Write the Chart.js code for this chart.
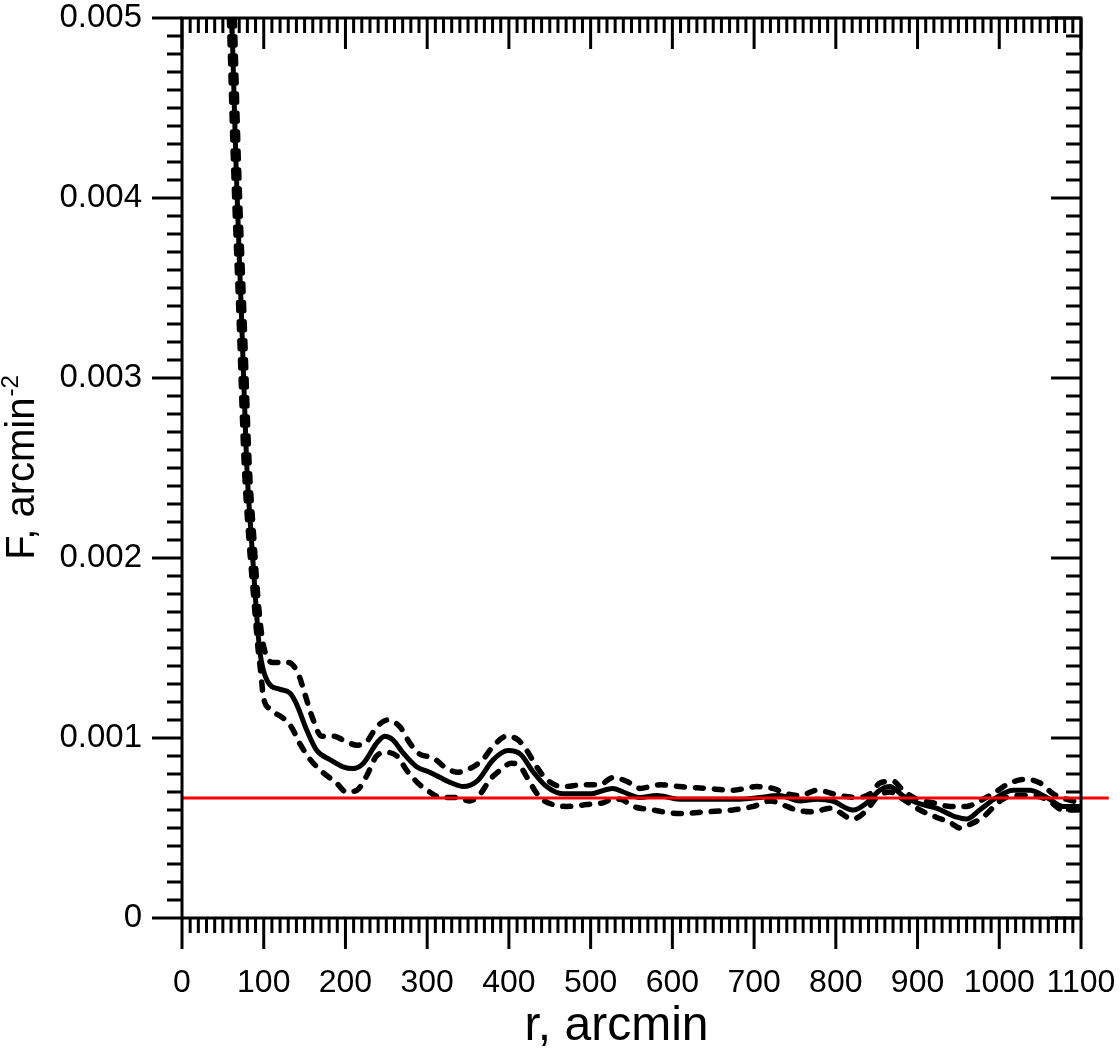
<!DOCTYPE html>
<html>
<head>
<meta charset="utf-8">
<script src="https://cdn.jsdelivr.net/npm/chart.js@4"></script>
<style>
  html, body { margin: 0; padding: 0; background: #fff; }
  #wrap { width: 1120px; height: 1049px; }
</style>
</head>
<body>
<div id="wrap"><canvas id="densityChart" width="1120" height="1049"></canvas></div>
<script>
// Radial surface density profile F(r)
// [r (arcmin), F (arcmin^-2)]
const meanProfile = [
    [61, 0.0050], [66, 0.0042], [73, 0.00332], [79, 0.00254], [85, 0.0021], [90, 0.00177],
    [95, 0.00149], [104, 0.00132], [120, 0.00127], [132, 0.00125], [140, 0.00119],
    [153, 0.00104], [165, 0.00093], [181, 0.00088], [197, 0.00084], [209, 0.00083],
    [222, 0.00086], [238, 0.00097], [248, 0.00101], [258, 0.00099], [270, 0.00092],
    [287, 0.00084], [303, 0.00081], [316, 0.00078], [330, 0.00075], [344, 0.00073],
    [361, 0.00076], [381, 0.00088], [399, 0.00093], [414, 0.00091], [430, 0.00081],
    [446, 0.00073], [466, 0.00069], [499, 0.00069], [527, 0.00072], [540, 0.0007],
    [560, 0.00067], [581, 0.00068], [609, 0.00066], [650, 0.00066], [683, 0.00066],
    [707, 0.00067], [731, 0.00068], [756, 0.00065], [777, 0.00066], [796, 0.00065],
    [821, 0.0006], [838, 0.00064], [854, 0.00071], [866, 0.00073], [882, 0.00068],
    [899, 0.00064], [923, 0.00061], [948, 0.00056], [960, 0.00055], [976, 0.0006],
    [997, 0.00067], [1017, 0.00071], [1037, 0.00071], [1058, 0.00067], [1078, 0.00062],
    [1100, 0.00062]
];

const upperBound = [
    [64, 0.0050], [69, 0.0042], [76, 0.00332], [82, 0.00254], [88, 0.0021], [93, 0.00177],
    [99, 0.00153], [111, 0.00142], [130, 0.00142], [142, 0.00136], [150, 0.00125],
    [159, 0.00112], [171, 0.00101], [185, 0.00101], [201, 0.00098], [214, 0.00096],
    [226, 0.00098], [238, 0.00106], [252, 0.0011], [267, 0.00106], [279, 0.00097],
    [291, 0.00091], [307, 0.00089], [324, 0.00083], [338, 0.00081], [352, 0.00083],
    [368, 0.00088], [380, 0.00095], [397, 0.00101], [411, 0.00099], [422, 0.00093],
    [434, 0.00084], [446, 0.00077], [466, 0.00073], [491, 0.00074], [511, 0.00074],
    [527, 0.00078], [544, 0.00076], [560, 0.00072], [585, 0.00074], [609, 0.00073],
    [642, 0.00072], [674, 0.00071], [703, 0.00073], [723, 0.00072], [740, 0.00069],
    [756, 0.00068], [777, 0.00071], [805, 0.00068], [825, 0.00067], [842, 0.00069],
    [854, 0.00075], [870, 0.00076], [882, 0.00071], [899, 0.00066], [919, 0.00064],
    [940, 0.00062], [960, 0.00062], [976, 0.00065], [992, 0.00069], [1013, 0.00075],
    [1033, 0.00077], [1050, 0.00075], [1066, 0.00069], [1082, 0.00066], [1100, 0.00064]
];

const lowerBound = [
    [58, 0.0050], [63, 0.0042], [70, 0.00332], [76, 0.00254], [82, 0.0021], [88, 0.00177],
    [93, 0.0015], [96.5, 0.00136], [99.5, 0.00123], [108, 0.00116], [124, 0.00111],
    [134, 0.00106], [144, 0.00097], [157, 0.00088], [172, 0.00081], [189, 0.00075],
    [201, 0.0007], [214, 0.00071], [226, 0.00079], [238, 0.0009], [250, 0.00092],
    [263, 0.0009], [275, 0.00082], [291, 0.00074], [303, 0.0007], [316, 0.00067],
    [336, 0.00067], [352, 0.00065], [365, 0.00069], [377, 0.00077], [389, 0.00082],
    [403, 0.00086], [414, 0.00084], [426, 0.00075], [438, 0.00067], [454, 0.00063],
    [471, 0.00062], [495, 0.00063], [515, 0.00064], [527, 0.00066], [536, 0.00066],
    [552, 0.00062], [576, 0.0006], [609, 0.00058], [642, 0.00059], [674, 0.0006],
    [699, 0.00062], [720, 0.00065], [740, 0.00062], [752, 0.0006], [772, 0.00059],
    [793, 0.00061], [821, 0.00055], [838, 0.0006], [850, 0.00067], [866, 0.0007],
    [882, 0.00066], [903, 0.0006], [923, 0.00056], [940, 0.00053], [952, 0.0005],
    [964, 0.00052], [980, 0.00056], [1001, 0.00065], [1017, 0.00068], [1037, 0.00068],
    [1058, 0.00066], [1078, 0.0006], [1100, 0.0006]
];

// background level (red line), runs a little past the right axis
const backgroundLevel = 0.000667;
const backgroundSpan = [0, 1134];

const xTicks = [0, 100, 200, 300, 400, 500, 600, 700, 800, 900, 1000, 1100];
const yTicks = [0, 0.001, 0.002, 0.003, 0.004, 0.005];

const FONT = 'Arial, "Liberation Sans", sans-serif';

const toPoints = arr => arr.map(p => ({ x: p[0], y: p[1] }));

// frame + inside/outside tick marks like the original plot
const frameTicks = {
    id: 'frameTicks',
    afterDraw(chart) {
        const { ctx, chartArea: a, scales: { x, y } } = chart;
        ctx.save();
        ctx.strokeStyle = '#000';
        ctx.lineWidth = 3;
        ctx.lineCap = 'butt';
        ctx.beginPath();
        for (let i = 0; i <= 110; i++) {
            const px = x.getPixelForValue(i * 10);
            const len = i % 10 === 0 ? 31 : 15;
            ctx.moveTo(px, a.bottom); ctx.lineTo(px, a.bottom + len);
            ctx.moveTo(px, a.top); ctx.lineTo(px, a.top + len);
        }
        for (let i = 0; i <= 50; i++) {
            const py = y.getPixelForValue(i * 0.0001);
            const len = i % 10 === 0 ? 30 : 15;
            ctx.moveTo(a.left - len, py); ctx.lineTo(a.left, py);
            ctx.moveTo(a.right - len, py); ctx.lineTo(a.right, py);
        }
        ctx.stroke();
        ctx.strokeRect(a.left, a.top, a.right - a.left, a.bottom - a.top);

        // axis titles
        ctx.fillStyle = '#000';
        ctx.font = '48px ' + FONT;
        ctx.textAlign = 'center';
        ctx.textBaseline = 'alphabetic';
        ctx.fillText('r, arcmin', (a.left + a.right) / 2 - 15, 1040);

        const main = 'F, arcmin';
        const sup = '-2';
        ctx.font = '40px ' + FONT;
        const w1 = ctx.measureText(main).width;
        ctx.font = '24px ' + FONT;
        const w2 = ctx.measureText(sup).width;
        ctx.translate(34, (a.top + a.bottom) / 2);
        ctx.rotate(-Math.PI / 2);
        ctx.textAlign = 'left';
        ctx.font = '40px ' + FONT;
        ctx.fillText(main, -(w1 + w2) / 2, 0);
        ctx.font = '24px ' + FONT;
        ctx.fillText(sup, -(w1 + w2) / 2 + w1 + 1, -16);
        ctx.restore();
    }
};

const dashed = {
    borderColor: '#000',
    borderWidth: 5.5,
    borderDash: [8, 11],
    borderCapStyle: 'round',
    pointRadius: 0,
    cubicInterpolationMode: 'monotone',
    fill: false
};

// drop the label overflow padding so the plot box sits where the original does
const noOverflow = s => {
    s.paddingTop = 0; s.paddingBottom = 0;
    s.paddingLeft = 0; s.paddingRight = 0;
};

new Chart(document.getElementById('densityChart'), {
    type: 'line',
    data: {
        datasets: [
            {
                label: 'background',
                data: toPoints(backgroundSpan.map(r => [r, backgroundLevel])),
                borderColor: '#ff0000',
                borderWidth: 3,
                pointRadius: 0,
                clip: false,
                order: 0
            },
            {
                label: 'F(r)',
                data: toPoints(meanProfile),
                borderColor: '#000',
                borderWidth: 5,
                borderCapStyle: 'round',
                pointRadius: 0,
                cubicInterpolationMode: 'monotone',
                order: 1
            },
            Object.assign({ label: 'upper', data: toPoints(upperBound), order: 2 }, dashed),
            Object.assign({ label: 'lower', data: toPoints(lowerBound), order: 3 }, dashed)
        ]
    },
    options: {
        responsive: false,
        animation: false,
        layout: { padding: { top: 18, right: 39, left: 0, bottom: 0 } },
        plugins: {
            legend: { display: false },
            tooltip: { enabled: false }
        },
        scales: {
            x: {
                type: 'linear',
                min: 0,
                max: 1100,
                afterBuildTicks: s => { s.ticks = xTicks.map(v => ({ value: v })); },
                afterFit: s => { s.height = 131; noOverflow(s); },
                grid: { display: false, drawTicks: false },
                border: { display: false },
                ticks: {
                    color: '#000',
                    padding: 46,
                    maxRotation: 0,
                    font: { family: FONT, size: 32 },
                    callback: v => String(v)
                }
            },
            y: {
                type: 'linear',
                min: 0,
                max: 0.005,
                afterBuildTicks: s => { s.ticks = yTicks.map(v => ({ value: v })); },
                afterFit: s => { s.width = 182; noOverflow(s); },
                grid: { display: false, drawTicks: false },
                border: { display: false },
                ticks: {
                    color: '#000',
                    padding: 40,
                    font: { family: FONT, size: 33 },
                    callback: v => (v === 0 ? '0' : v.toFixed(3))
                }
            }
        }
    },
    plugins: [frameTicks]
});
</script>
</body>
</html>
